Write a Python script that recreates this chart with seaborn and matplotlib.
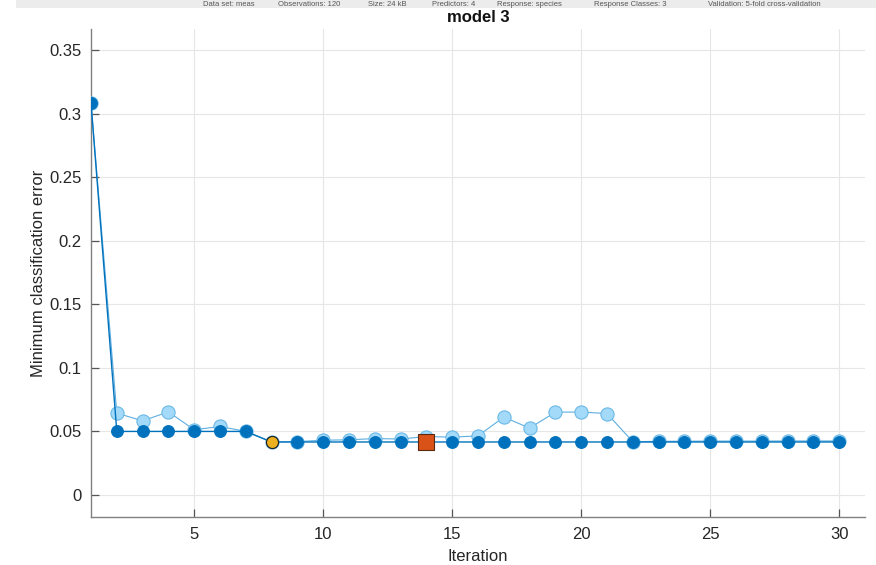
import matplotlib
matplotlib.use("Agg")
import matplotlib.pyplot as plt
import seaborn as sns
import pandas as pd
from matplotlib.patches import Rectangle

iterations = list(range(1, 31))
observed_min = [0.3083, 0.05, 0.05, 0.05, 0.05, 0.05, 0.05] + [0.0417] * 23
estimated_min = [0.3083, 0.0644, 0.0583, 0.0654, 0.0513, 0.0539, 0.0500, 0.0417,
                 0.0420, 0.0431, 0.0434, 0.0444, 0.0440, 0.0460, 0.0455, 0.0465,
                 0.0613, 0.0526, 0.0652, 0.0652, 0.0641, 0.0419, 0.0422, 0.0423,
                 0.0424, 0.0424, 0.0424, 0.0425, 0.0425, 0.0425]
best_point_x = [8]
best_point_y = [0.0417]
min_error_x = [14]
min_error_y = [0.0417]
xticks = [5, 10, 15, 20, 25, 30]
yticks = [0, 0.05, 0.1, 0.15, 0.2, 0.25, 0.3, 0.35]
ytick_labels = ["0", "0.05", "0.1", "0.15", "0.2", "0.25", "0.3", "0.35"]
header_items = [("Data set: meas", 203), ("Observations: 120", 278), ("Size: 24 kB", 368),
                ("Predictors: 4", 432), ("Response: species", 497),
                ("Response Classes: 3", 594), ("Validation: 5-fold cross-validation", 708)]

sns.set_theme(style="white")
plt.rcParams['font.family'] = ['Liberation Sans', 'DejaVu Sans']

df = pd.DataFrame({"Iteration": iterations, "observed": observed_min, "estimated": estimated_min})

fig = plt.figure(figsize=(8.76, 5.65), dpi=100)
ax = fig.add_axes([91/876, 48/565, (865-91)/876, (517-29)/565])

sns.lineplot(data=df, x="Iteration", y="estimated", ax=ax, color="#5DAEE0", linewidth=0.8,
             marker="o", markersize=9.5, markerfacecolor="#A3D9F9", markeredgecolor="#6CB9E6",
             markeredgewidth=0.8, zorder=3)
sns.lineplot(data=df, x="Iteration", y="observed", ax=ax, color="#0072BD", linewidth=1.0,
             marker="o", markersize=8.5, markerfacecolor="#0072BD", markeredgecolor="#0072BD",
             zorder=4)
sns.scatterplot(x=best_point_x, y=best_point_y, ax=ax, marker="o", s=75, color="#EDB120",
                edgecolor="#222222", linewidth=0.8, zorder=6)
sns.scatterplot(x=min_error_x, y=min_error_y, ax=ax, marker="s", s=140, color="#D95319",
                edgecolor="#5a2a10", linewidth=0.8, zorder=6)

ax.set_xlim(1, 31)
ax.set_ylim(-0.0173, 0.3665)
ax.set_xticks(xticks)
ax.set_yticks(yticks)
ax.set_yticklabels(ytick_labels)
ax.grid(True, color="#e6e6e6", linewidth=0.8)
ax.set_axisbelow(True)
for s in ["top", "right"]:
    ax.spines[s].set_visible(False)
for s in ["left", "bottom"]:
    ax.spines[s].set_color("#808080")
    ax.spines[s].set_linewidth(1.0)
ax.tick_params(direction="in", length=6, width=0.9, color="#555555", labelsize=12,
               labelcolor="#262626", left=True, bottom=True, pad=7)
ax.set_xlabel("Iteration", fontsize=12, color="#262626", labelpad=5)
ax.set_ylabel("Minimum classification error", fontsize=12, color="#262626", labelpad=2)
ax.set_title("model 3", fontsize=12, fontweight="bold", color="#111111", pad=5)

# top header strip
fig.patches.append(Rectangle((16/876, 1 - 8/565), 1, 8/565, transform=fig.transFigure,
                             facecolor="#ececec", edgecolor="none", zorder=0))
for txt, xp in header_items:
    fig.text(xp/876, 1 - 0.5/565, txt, fontsize=5.5, color="#555555", ha="left", va="top")

fig.savefig("out.png", dpi=100)
